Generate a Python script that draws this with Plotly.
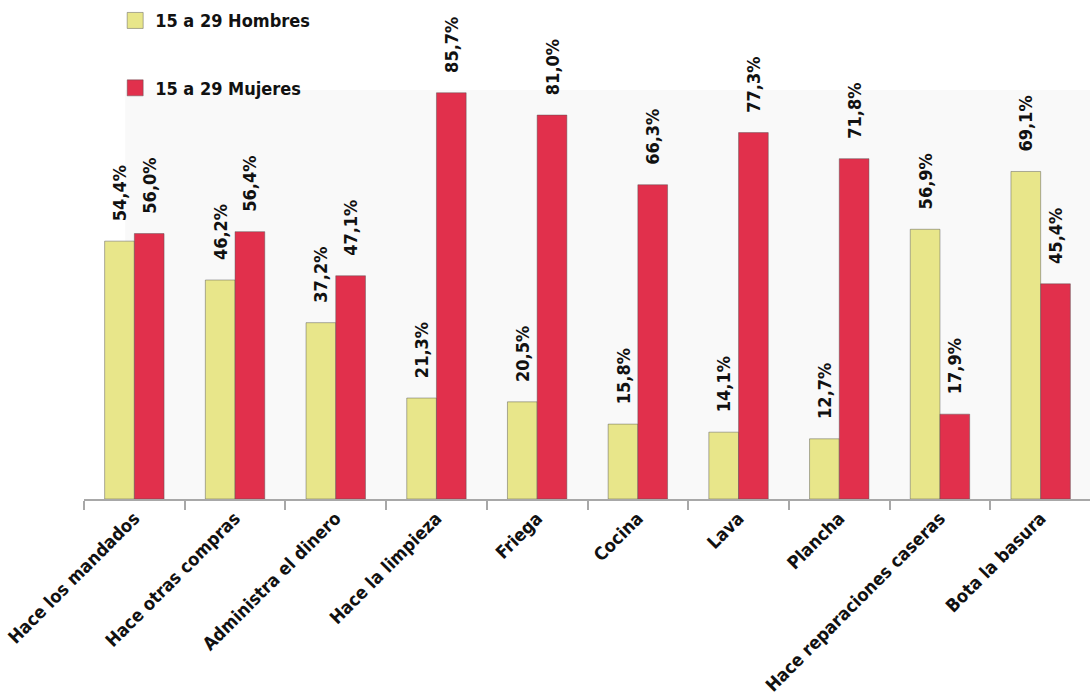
import plotly.graph_objects as go

# Tareas del hogar realizadas por jóvenes de 15 a 29 años (%)
categorias = [
    "Hace los mandados",
    "Hace otras compras",
    "Administra el dinero",
    "Hace la limpieza",
    "Friega",
    "Cocina",
    "Lava",
    "Plancha",
    "Hace reparaciones caseras",
    "Bota la basura",
]
hombres = [54.4, 46.2, 37.2, 21.3, 20.5, 15.8, 14.1, 12.7, 56.9, 69.1]
mujeres = [56.0, 56.4, 47.1, 85.7, 81.0, 66.3, 77.3, 71.8, 17.9, 45.4]

serie_h = "15 a 29 Hombres"
serie_m = "15 a 29 Mujeres"

AMARILLO = "#e8e68a"
ROJO = "#e1304c"
FUENTE = "DejaVu Sans Condensed, Liberation Sans Narrow, sans-serif"

fig = go.Figure()

for nombre, valores, color in [(serie_h, hombres, AMARILLO), (serie_m, mujeres, ROJO)]:
    fig.add_trace(go.Bar(
        x=categorias,
        y=valores,
        name=nombre,
        showlegend=False,
        marker=dict(color=color, line=dict(color="rgba(80,80,80,0.45)", width=1)),
        texttemplate="\u00a0\u00a0\u00a0%{y:.1f}%",
        textposition="outside",
        textangle=-90,
        constraintext="none",
        cliponaxis=False,
        textfont=dict(family=FUENTE, size=18, color="#111111", weight="bold"),
    ))

# Entradas de leyenda con cuadrados más grandes
for i, (nombre, color) in enumerate([(serie_h, AMARILLO), (serie_m, ROJO)]):
    fig.add_trace(go.Scatter(
        x=[None], y=[None],
        mode="markers",
        name=nombre,
        legendgroup=f"g{i}",
        marker=dict(symbol="square", size=16, color=color,
                    line=dict(color="rgba(80,80,80,0.45)", width=1)),
    ))

fig.update_layout(
    width=1090,
    height=699,
    margin=dict(l=84, r=0, t=25, b=200, autoexpand=False),
    paper_bgcolor="white",
    plot_bgcolor="white",
    separators=",.",
    barmode="group",
    bargap=0.41,
    bargroupgap=0,
    font=dict(family=FUENTE, color="#111111"),
    legend=dict(
        x=0.031, y=1.048, xanchor="left", yanchor="top",
        xref="paper", yref="paper",
        bgcolor="rgba(0,0,0,0)",
        font=dict(family=FUENTE, size=18, color="#111111", weight="bold"),
        traceorder="grouped",
        tracegroupgap=41,
    ),
    shapes=[dict(
        type="rect", xref="paper", yref="paper",
        x0=0.041, x1=1.0, y0=0.0, y1=0.863,
        fillcolor="#f9f9f9", line=dict(width=0), layer="below",
    )],
)

fig.update_xaxes(
    range=[-0.5, 9.49],
    automargin=False,
    showline=True, linecolor="#a8a8a8", linewidth=1.5,
    ticks="outside", tickson="boundaries", ticklen=9, tickcolor="#a8a8a8", tickwidth=1.5,
    tickangle=-45,
    tickfont=dict(family=FUENTE, size=18, color="#111111", weight="bold"),
    showgrid=False,
)
fig.update_yaxes(
    range=[0, 100],
    visible=False,
    automargin=False,
    showgrid=False,
    zeroline=False,
)

fig.write_html("out.html")
